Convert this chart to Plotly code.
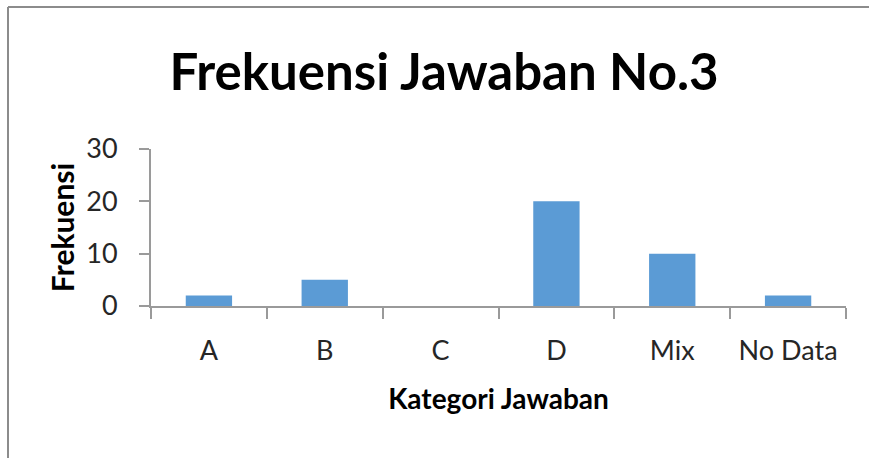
import plotly.graph_objects as go

categories = ["A", "B", "C", "D", "Mix", "No Data"]
frekuensi = [2, 5, 0, 20, 10, 2]
y_ticks = [0, 10, 20, 30]

W, H = 869, 458
L, R, T, B = 151, 23, 149, 152
pw = W - L - R
ph = H - T - B

fig = go.Figure(go.Bar(
    x=categories, y=frekuensi,
    marker=dict(color="#5B9BD5", line=dict(width=0)),
    width=0.4,
))

axis_col = "#9A9A9A"
fig.update_layout(
    width=W, height=H,
    margin=dict(l=L, r=R, t=T, b=B, autoexpand=False),
    paper_bgcolor="white", plot_bgcolor="white",
    showlegend=False,
    title=dict(
        text="<b>Frekuensi Jawaban No.3</b>",
        font=dict(family="Lato", size=51, color="black"),
        x=444 / W, xanchor="center", xref="container",
        y=1 - 72 / H, yanchor="middle", yref="container",
    ),
    xaxis=dict(
        type="category",
        showline=True, linecolor=axis_col, linewidth=2,
        ticks="outside", tickson="boundaries", ticklen=11, tickcolor=axis_col, tickwidth=2,
        tickfont=dict(family="Lato", size=27, color="#262626"),
        ticklabelstandoff=20,
        showgrid=False, zeroline=False,
        title=dict(text="<b>Kategori Jawaban</b>", font=dict(family="Lato", size=28, color="black"), standoff=24),
        automargin=False,
    ),
    yaxis=dict(
        range=[0, 30], tickvals=y_ticks,
        showline=True, linecolor=axis_col, linewidth=2,
        ticks="outside", ticklen=10, tickcolor=axis_col, tickwidth=2,
        tickfont=dict(family="Lato", size=27, color="#262626"),
        ticklabelstandoff=16,
        showgrid=False, zeroline=False,
        title=dict(text="<b>Frekuensi</b>", font=dict(family="Lato", size=30, color="black"), standoff=3),
        automargin=False,
    ),
    shapes=[
        dict(type="line", xref="paper", yref="paper",
             x0=(8 - L) / pw, x1=(W + 5 - L) / pw,
             y0=(H - B - 7) / ph, y1=(H - B - 7) / ph,
             line=dict(color="#8C8C8C", width=2)),
        dict(type="line", xref="paper", yref="paper",
             x0=(8 - L) / pw, x1=(8 - L) / pw,
             y0=(H - B - 7) / ph, y1=(H - B - H - 5) / ph,
             line=dict(color="#8C8C8C", width=2)),
    ],
)

fig.write_html(
    "out.html",
    config={"displayModeBar": False},
    post_script="document.body.style.margin='0';document.body.style.overflow='hidden';",
)
